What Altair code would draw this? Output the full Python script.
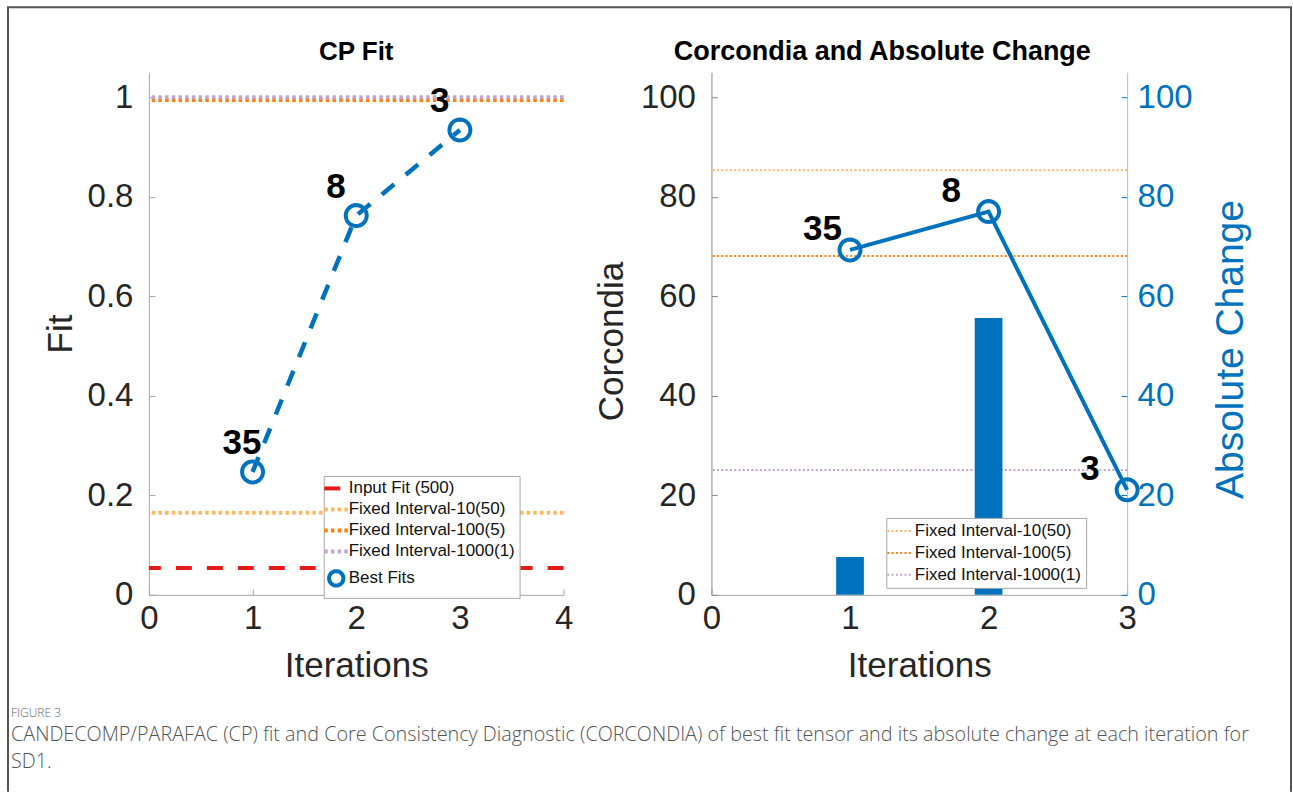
import math

import altair as alt
import pandas as pd

# ---------------- values ----------------
ITERATIONS = [1, 2, 3]
BEST_FIT = [0.247, 0.762, 0.934]
BEST_RANK = ["35", "8", "3"]

INPUT_FIT_NAME = "Input Fit (500)"
INPUT_FIT = 0.054
FIXED_NAMES = ["Fixed Interval-10(50)", "Fixed Interval-100(5)", "Fixed Interval-1000(1)"]
FIXED_FIT = [0.165, 0.994, 1.0]
BEST_NAME = "Best Fits"

CORCONDIA = [69.3, 77.0, 21.1]
CHANGE_ITER = [1, 2]
ABS_CHANGE = [7.6, 55.6]
FIXED_CORCONDIA = [85.3, 68.1, 25.1]

X_TICKS_FIT = [0, 1, 2, 3, 4]
Y_TICKS_FIT = [0, 0.2, 0.4, 0.6, 0.8, 1]
X_TICKS_CORC = [0, 1, 2, 3]
Y_TICKS_CORC = [0, 20, 40, 60, 80, 100]

CAPTION = [
    "FIGURE 3",
    "CANDECOMP/PARAFAC (CP) fit and Core Consistency Diagnostic (CORCONDIA) of best fit tensor and its absolute change at each iteration for",
    "SD1.",
]

# ---------------- styling ----------------
FONT = "Liberation Sans"
CAP_FONT = "Open Sans"
INK = "#262626"
AXIS_GRAY = "#a6a6a6"
BLUE = "#0072bd"
SERIES = [INPUT_FIT_NAME] + FIXED_NAMES + [BEST_NAME]
COLORS = ["#e41a1c", "#fdb863", "#ff7f0e", "#c2a5cf", BLUE]
DOTS = [3.5, 3.2]
DASHES = [[16, 15], DOTS, DOTS, DOTS, [1, 0]]
LINE_PATH = "M-2,0H2"
# open ring marker as a fine polygon (keeps symbol bounds tight in the legend)
RING_R = 1.2
RING_PATH = "M" + "L".join(
    f"{RING_R * math.cos(2 * math.pi * k / 32):.3f},{RING_R * math.sin(2 * math.pi * k / 32):.3f}"
    for k in range(32)
) + "Z"
SHAPES = [LINE_PATH, LINE_PATH, LINE_PATH, LINE_PATH, RING_PATH]
RING_SIZE = 306

W_FIT, W_CORC, H = 415, 416, 523
GAP = 148

fit_df = pd.DataFrame({"iteration": ITERATIONS, "fit": BEST_FIT, "rank": BEST_RANK,
                       "series": [BEST_NAME] * len(ITERATIONS)})
fit_ref_df = pd.DataFrame({"series": [INPUT_FIT_NAME] + FIXED_NAMES,
                           "value": [INPUT_FIT] + FIXED_FIT})
corc_df = pd.DataFrame({"iteration": ITERATIONS, "corc": CORCONDIA, "rank": BEST_RANK})
corc_ref_df = pd.DataFrame({"series": FIXED_NAMES, "value": FIXED_CORCONDIA})
change_df = pd.DataFrame({"iteration": CHANGE_ITER, "change": ABS_CHANGE})
one = pd.DataFrame({"k": [0]})


def x_axis(values):
    return alt.Axis(values=values, format="~g", title="Iterations", grid=False,
                    domainColor=AXIS_GRAY, tickColor=AXIS_GRAY,
                    tickSize=alt.ExprRef(expr="-6"), labelPadding=14,
                    labelFont=FONT, labelFontSize=33, labelColor=INK, labelFlush=False,
                    titleFont=FONT, titleFontSize=35, titleFontWeight="normal",
                    titleColor=INK, titlePadding=13)


def y_axis(values, title, fmt="~g", orient="left", color=INK, domain_color=AXIS_GRAY,
           pad=22, title_pad=3, title_size=35, baseline="bottom", title_y=None):
    opts = dict(values=values, format=fmt, title=title, orient=orient, grid=False,
                domainColor=domain_color, tickColor=domain_color if orient == "left" else color,
                tickSize=alt.ExprRef(expr="-6"), labelPadding=pad,
                labelFont=FONT, labelFontSize=33, labelColor=color, labelFlush=False,
                titleFont=FONT, titleFontSize=title_size, titleFontWeight="normal",
                titleColor=color, titlePadding=title_pad, titleAngle=270,
                titleBaseline=baseline)
    if title_y is not None:
        opts["titleY"] = title_y
    return alt.Axis(**opts)


# ---------------- CP Fit panel ----------------
fit_legend = alt.Legend(title=None, orient="none", legendX=175, legendY=404,
                        fillColor="white", strokeColor="#a8a8a8", padding=4,
                        rowPadding=3, labelFont=FONT, labelFontSize=17, labelLimit=400,
                        labelColor="#111111", labelOffset=4, symbolSize=144,
                        symbolStrokeWidth=4, symbolFillColor="transparent")
fit_color = alt.Color("series:N", scale=alt.Scale(domain=SERIES, range=COLORS), legend=fit_legend)
fit_dash = alt.StrokeDash("series:N", scale=alt.Scale(domain=SERIES, range=DASHES), legend=fit_legend)
fit_shape = alt.Shape("series:N", scale=alt.Scale(domain=SERIES, range=SHAPES), legend=fit_legend)

fx = alt.X("iteration:Q", scale=alt.Scale(domain=[0, 4], nice=False, zero=False), axis=x_axis(X_TICKS_FIT))
fy_scale = alt.Scale(domain=[0, 1.05], nice=False)
fy_axis = y_axis(Y_TICKS_FIT, "Fit", title_pad=9)

fit_rules = alt.Chart(fit_ref_df).mark_rule(strokeWidth=4).encode(
    y=alt.Y("value:Q", scale=fy_scale, axis=fy_axis), color=fit_color, strokeDash=fit_dash)
fit_line = alt.Chart(fit_df).mark_line(strokeWidth=4.5, strokeDash=[16, 15]).encode(
    x=fx, y=alt.Y("fit:Q", scale=fy_scale, axis=fy_axis), color=fit_color)
fit_points = alt.Chart(fit_df).mark_point(filled=False, size=RING_SIZE, strokeWidth=4, opacity=1).encode(
    x=fx, y=alt.Y("fit:Q", scale=fy_scale, axis=fy_axis), color=fit_color, shape=fit_shape)
fit_labels = alt.Chart(fit_df).mark_text(align="left", baseline="middle", dx=-30, dy=-29,
                                         font=FONT, fontSize=35, fontWeight="bold", color="black").encode(
    x=fx, y=alt.Y("fit:Q", scale=fy_scale, axis=fy_axis), text="rank:N")
fit_title = alt.Chart(one).mark_text(text="CP Fit", font=FONT, fontSize=26, fontWeight="bold",
                                     color="black", align="center", baseline="middle").encode(
    x=alt.value(W_FIT / 2), y=alt.value(-20))

# figure frame and caption
frame_style = dict(color="#555555", strokeWidth=2)
frame_left = alt.Chart(one).mark_rule(**frame_style).encode(
    x=alt.value(-141), y=alt.value(-65), y2=alt.value(720))
frame_top = alt.Chart(one).mark_rule(**frame_style).encode(
    x=alt.value(-142), x2=alt.value(1144), y=alt.value(-65))
frame_right = alt.Chart(one).mark_rule(**frame_style).encode(
    x=alt.value(1143), y=alt.value(-65), y2=alt.value(720))
cap_style = dict(font=CAP_FONT, fontWeight=300, align="left", baseline="middle")
cap_head = alt.Chart(one).mark_text(text=CAPTION[0], fontSize=12, color="#666666", **cap_style).encode(
    x=alt.value(-138), y=alt.value(641))
cap_l1 = alt.Chart(one).mark_text(text=CAPTION[1], fontSize=19.8, color="#555555", **cap_style).encode(
    x=alt.value(-138), y=alt.value(663))
cap_l2 = alt.Chart(one).mark_text(text=CAPTION[2], fontSize=19.8, color="#555555", **cap_style).encode(
    x=alt.value(-138), y=alt.value(690))

fit_panel = alt.layer(
    fit_rules, fit_line, fit_points, fit_labels, fit_title,
    frame_left, frame_top, frame_right, cap_head, cap_l1, cap_l2,
).properties(width=W_FIT, height=H)

# ---------------- Corcondia panel ----------------
corc_legend = alt.Legend(title=None, orient="none", legendX=175, legendY=446,
                         fillColor="white", strokeColor="#a8a8a8", padding=4.5,
                         rowPadding=4, labelFont=FONT, labelFontSize=17, labelLimit=400,
                         labelColor="#111111", labelOffset=7, symbolSize=144,
                         symbolStrokeWidth=2, symbolType=LINE_PATH)
corc_color = alt.Color("series:N", scale=alt.Scale(domain=FIXED_NAMES, range=COLORS[1:4]), legend=corc_legend)
corc_dash = alt.StrokeDash("series:N", scale=alt.Scale(domain=FIXED_NAMES, range=[[2, 2.3]] * 3),
                           legend=corc_legend)

cx_axis = x_axis(X_TICKS_CORC)
cx_scale = alt.Scale(domain=[0, 3], nice=False, zero=False)
cx = alt.X("iteration:Q", scale=cx_scale, axis=cx_axis)
cy_scale = alt.Scale(domain=[0, 105], nice=False)
cy_axis = y_axis(Y_TICKS_CORC, "Corcondia", fmt="d", domain_color="#8c8c8c", title_pad=11, title_y=269)

corc_rules = alt.Chart(corc_ref_df).mark_rule(strokeWidth=2).encode(
    y=alt.Y("value:Q", scale=cy_scale, axis=cy_axis), color=corc_color, strokeDash=corc_dash)
corc_line = alt.Chart(corc_df).mark_line(strokeWidth=4, color=BLUE).encode(
    x=cx, y=alt.Y("corc:Q", scale=cy_scale, axis=cy_axis))
corc_points = alt.Chart(corc_df).mark_point(filled=False, size=RING_SIZE, strokeWidth=4, color=BLUE,
                                            shape=RING_PATH, opacity=1).encode(
    x=cx, y=alt.Y("corc:Q", scale=cy_scale, axis=cy_axis))
corc_labels = alt.Chart(corc_df).mark_text(align="left", baseline="middle", dx=-47, dy=-21,
                                           font=FONT, fontSize=35, fontWeight="bold", color="black").encode(
    x=cx, y=alt.Y("corc:Q", scale=cy_scale, axis=cy_axis), text="rank:N")
corc_title = alt.Chart(one).mark_text(text="Corcondia and Absolute Change", font=FONT, fontSize=27,
                                      fontWeight="bold", color="black", align="center",
                                      baseline="middle").encode(
    x=alt.value(171), y=alt.value(-20))

corc_layer = alt.layer(corc_rules, corc_line, corc_points, corc_labels, corc_title)

change_bars = alt.Chart(change_df).transform_calculate(
    lo="datum.iteration - 0.1", hi="datum.iteration + 0.1", base="0"
).mark_bar(color=BLUE).encode(
    x=alt.X("lo:Q", scale=cx_scale, axis=cx_axis),
    x2="hi:Q",
    y=alt.Y("change:Q", scale=alt.Scale(domain=[0, 105], nice=False),
            axis=y_axis(Y_TICKS_CORC, "Absolute Change", fmt="d", orient="right", color=BLUE,
                        domain_color="#9cc3e6", pad=16, title_pad=19, title_size=39,
                        baseline="top", title_y=277)),
    y2="base:Q",
)

corc_panel = alt.layer(corc_layer, change_bars).resolve_scale(y="independent").properties(
    width=W_CORC, height=H)

chart = alt.hconcat(fit_panel, corc_panel, spacing=GAP, bounds="flush").resolve_scale(
    color="independent", strokeDash="independent", shape="independent"
).properties(
    padding={"left": 6, "top": 6, "right": 0, "bottom": 0},
    background="white",
).configure_view(strokeWidth=0)

chart.save("out.html", embed_options={"renderer": "svg", "actions": False})
